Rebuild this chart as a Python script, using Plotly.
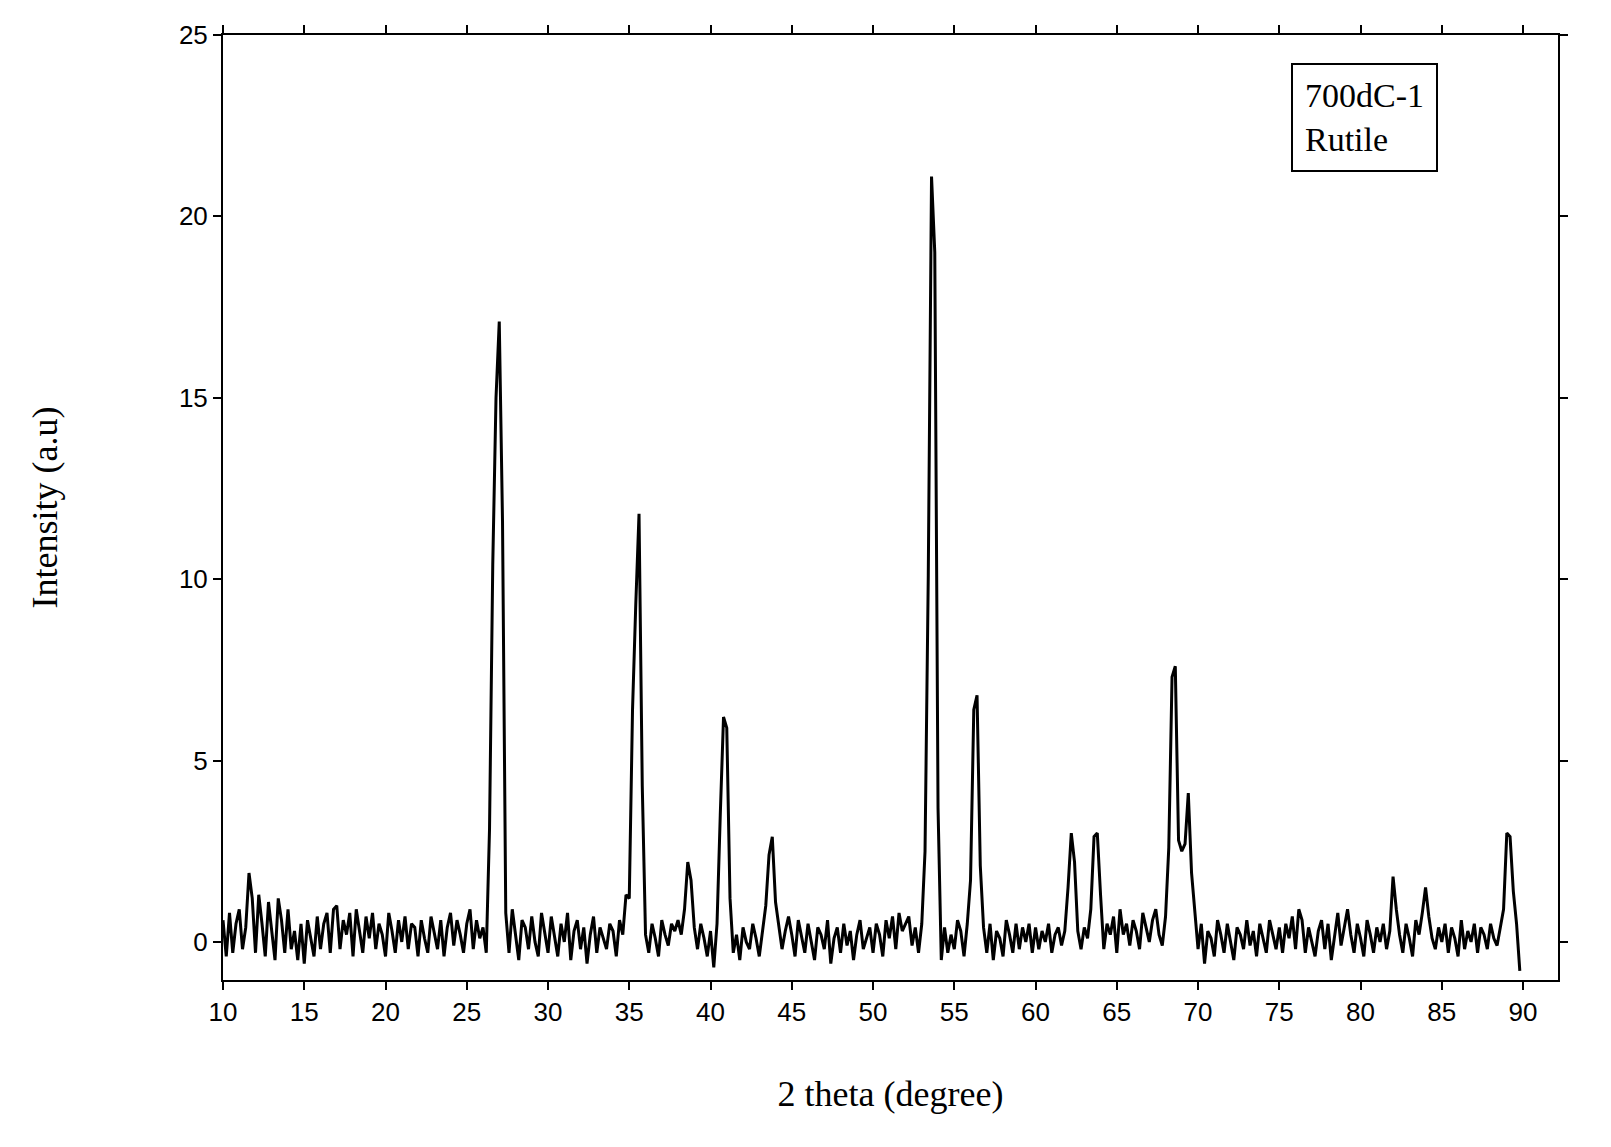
import plotly.graph_objects as go

# 2 theta grid: 10.0 .. 89.8 in 0.2 steps
theta_start = 10.0
theta_step = 0.2

intensity = [
    # 10-15
    0.6, -0.4, 0.8, -0.3, 0.5, 0.9, -0.2, 0.4, 1.9, 1.2, -0.3, 1.3, 0.5, -0.4, 1.1, 0.2, -0.5, 1.2, 0.6, -0.3, 0.9, -0.2, 0.3, -0.5, 0.5,
    # 15-20
    -0.6, 0.6, 0.1, -0.4, 0.7, -0.2, 0.5, 0.8, -0.3, 0.9, 1.0, -0.2, 0.6, 0.2, 0.8, -0.4, 0.9, 0.3, -0.3, 0.7, 0.1, 0.8, -0.2, 0.5, 0.2,
    # 20-25
    -0.4, 0.8, 0.3, -0.3, 0.6, 0.0, 0.7, -0.2, 0.5, 0.4, -0.4, 0.6, 0.1, -0.3, 0.7, 0.2, -0.2, 0.6, -0.4, 0.4, 0.8, -0.1, 0.6, 0.2, -0.3,
    # 25-30
    0.5, 0.9, -0.2, 0.6, 0.1, 0.4, -0.3, 3.1, 10.4, 15.0, 17.1, 11.6, 0.8, -0.3, 0.9, 0.2, -0.5, 0.6, 0.4, -0.2, 0.7, 0.0, -0.4, 0.8, 0.3,
    # 30-35
    -0.3, 0.7, 0.2, -0.4, 0.5, 0.0, 0.8, -0.5, 0.3, 0.6, -0.2, 0.4, -0.6, 0.2, 0.7, -0.3, 0.4, 0.1, -0.2, 0.5, 0.3, -0.4, 0.6, 0.2, 1.3,
    # 35-40
    1.2, 6.4, 9.3, 11.8, 4.3, 0.2, -0.3, 0.5, 0.1, -0.4, 0.6, 0.2, -0.1, 0.5, 0.3, 0.6, 0.2, 0.9, 2.2, 1.7, 0.4, -0.2, 0.5, 0.1, -0.4,
    # 40-45
    0.3, -0.7, 0.5, 3.5, 6.2, 5.9, 1.2, -0.3, 0.2, -0.5, 0.4, 0.0, -0.2, 0.5, 0.1, -0.4, 0.3, 1.0, 2.4, 2.9, 1.1, 0.4, -0.2, 0.3, 0.7,
    # 45-50
    0.2, -0.4, 0.6, 0.1, -0.3, 0.5, 0.0, -0.5, 0.4, 0.2, -0.2, 0.6, -0.6, 0.1, 0.4, -0.3, 0.5, -0.1, 0.3, -0.5, 0.2, 0.6, -0.2, 0.1, 0.4,
    # 50-55
    -0.3, 0.5, 0.2, -0.4, 0.6, 0.1, 0.7, -0.2, 0.8, 0.3, 0.5, 0.7, -0.1, 0.4, -0.3, 0.5, 2.5, 10.1, 21.1, 19.0, 3.7, -0.5, 0.4, -0.3, 0.2,
    # 55-60
    -0.2, 0.6, 0.3, -0.4, 0.5, 1.7, 6.4, 6.8, 2.1, 0.4, -0.3, 0.5, -0.5, 0.3, 0.1, -0.4, 0.6, 0.2, -0.3, 0.5, -0.2, 0.4, 0.0, 0.5, -0.3,
    # 60-65
    0.4, -0.2, 0.3, 0.0, 0.5, -0.3, 0.2, 0.4, -0.1, 0.3, 1.5, 3.0, 2.2, 0.3, -0.2, 0.4, 0.1, 0.9, 2.9, 3.0, 1.3, -0.2, 0.5, 0.2, 0.7,
    # 65-70
    -0.3, 0.9, 0.2, 0.5, -0.1, 0.6, 0.3, -0.2, 0.8, 0.4, 0.0, 0.6, 0.9, 0.2, -0.1, 0.7, 2.6, 7.3, 7.6, 2.8, 2.5, 2.7, 4.1, 1.9, 0.8,
    # 70-75
    -0.2, 0.5, -0.6, 0.3, 0.1, -0.4, 0.6, 0.2, -0.3, 0.5, 0.0, -0.5, 0.4, 0.2, -0.2, 0.6, -0.1, 0.3, -0.4, 0.5, 0.1, -0.3, 0.6, 0.2, -0.2,
    # 75-80
    0.4, -0.3, 0.5, 0.1, 0.7, -0.2, 0.9, 0.6, -0.3, 0.4, 0.0, -0.4, 0.3, 0.6, -0.2, 0.5, -0.5, 0.2, 0.8, -0.1, 0.4, 0.9, 0.2, -0.3, 0.5,
    # 80-85
    0.1, -0.4, 0.6, 0.2, -0.3, 0.4, 0.0, 0.5, -0.2, 0.3, 1.8, 0.9, 0.2, -0.3, 0.5, 0.1, -0.4, 0.6, 0.2, 0.8, 1.5, 0.7, 0.1, -0.2, 0.4,
    # 85-90
    0.0, 0.5, -0.3, 0.4, 0.1, -0.4, 0.6, -0.2, 0.3, 0.0, 0.5, -0.3, 0.4, 0.2, -0.2, 0.5, 0.1, -0.1, 0.4, 0.9, 3.0, 2.9, 1.4, 0.5, -0.8,
]
two_theta = [round(theta_start + i * theta_step, 1) for i in range(len(intensity))]

x_ticks = list(range(10, 95, 5))
y_ticks = [0, 5, 10, 15, 20, 25]

fig = go.Figure()
fig.add_trace(go.Scatter(
    x=two_theta, y=intensity, mode="lines",
    line=dict(color="black", width=3), showlegend=False,
))

axis_common = dict(
    showline=True, linecolor="black", linewidth=2, mirror="ticks",
    ticks="outside", ticklen=8, tickwidth=1.5, tickcolor="black",
    showgrid=False, zeroline=False,
    tickfont=dict(family="Liberation Sans", size=26, color="black"),
)

fig.update_xaxes(
    range=[10, 92.15], tickvals=x_ticks,
    title=dict(text="2 theta (degree)", font=dict(family="Liberation Serif", size=36, color="black"), standoff=55),
    **axis_common,
)
fig.update_yaxes(
    range=[-1.05, 25], tickvals=y_ticks,
    title=dict(text="Intensity (a.u)", font=dict(family="Liberation Serif", size=36, color="black"), standoff=110),
    **axis_common,
)

fig.add_annotation(
    x=0.8, y=0.97, xref="paper", yref="paper", xanchor="left", yanchor="top",
    text="700dC-1<br>Rutile", showarrow=False, align="left",
    font=dict(family="Liberation Serif", size=34, color="black"),
    bordercolor="black", borderwidth=2, borderpad=12, bgcolor="white",
)

fig.update_layout(
    width=1611, height=1147,
    margin=dict(l=215, r=61, t=27, b=175),
    plot_bgcolor="white", paper_bgcolor="white",
)

fig.write_html("out.html")
